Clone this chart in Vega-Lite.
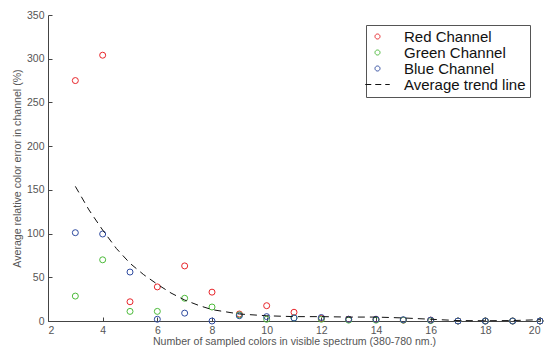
{
  "$schema": "https://vega.github.io/schema/vega-lite/v6.json",
  "width": 492,
  "height": 306,
  "autosize": "none",
  "padding": {"left": 48, "top": 15, "right": 10, "bottom": 29},
  "background": "white",
  "config": {
    "view": {"stroke": null},
    "font": "Liberation Sans",
    "axis": {
      "grid": false,
      "domainColor": "#444444",
      "tickColor": "#444444",
      "labelColor": "#555555",
      "titleColor": "#555555",
      "labelFontSize": 10.5,
      "titleFontSize": 10.6,
      "titleFontWeight": "normal",
      "tickSize": -4,
      "labelPadding": 8
    }
  },
  "datasets": {
    "pts": [
      {"x": 3, "channel": "Red Channel", "y": 275},
      {"x": 4, "channel": "Red Channel", "y": 304},
      {"x": 5, "channel": "Red Channel", "y": 22},
      {"x": 6, "channel": "Red Channel", "y": 39},
      {"x": 7, "channel": "Red Channel", "y": 63},
      {"x": 8, "channel": "Red Channel", "y": 33},
      {"x": 9, "channel": "Red Channel", "y": 8},
      {"x": 10, "channel": "Red Channel", "y": 17.5},
      {"x": 11, "channel": "Red Channel", "y": 10},
      {"x": 12, "channel": "Red Channel", "y": 3},
      {"x": 13, "channel": "Red Channel", "y": 2},
      {"x": 14, "channel": "Red Channel", "y": 2},
      {"x": 15, "channel": "Red Channel", "y": 1},
      {"x": 16, "channel": "Red Channel", "y": 1},
      {"x": 17, "channel": "Red Channel", "y": 0},
      {"x": 18, "channel": "Red Channel", "y": 0},
      {"x": 19, "channel": "Red Channel", "y": 0},
      {"x": 20, "channel": "Red Channel", "y": 0},
      {"x": 3, "channel": "Green Channel", "y": 28.5},
      {"x": 4, "channel": "Green Channel", "y": 70},
      {"x": 5, "channel": "Green Channel", "y": 11},
      {"x": 6, "channel": "Green Channel", "y": 11},
      {"x": 7, "channel": "Green Channel", "y": 26},
      {"x": 8, "channel": "Green Channel", "y": 16},
      {"x": 9, "channel": "Green Channel", "y": 7},
      {"x": 10, "channel": "Green Channel", "y": 2},
      {"x": 11, "channel": "Green Channel", "y": 3.5},
      {"x": 12, "channel": "Green Channel", "y": 2},
      {"x": 13, "channel": "Green Channel", "y": 1},
      {"x": 14, "channel": "Green Channel", "y": 1},
      {"x": 15, "channel": "Green Channel", "y": 1},
      {"x": 16, "channel": "Green Channel", "y": 0.5},
      {"x": 17, "channel": "Green Channel", "y": 0},
      {"x": 18, "channel": "Green Channel", "y": 0},
      {"x": 19, "channel": "Green Channel", "y": 0},
      {"x": 20, "channel": "Green Channel", "y": 0},
      {"x": 3, "channel": "Blue Channel", "y": 101},
      {"x": 4, "channel": "Blue Channel", "y": 99.5},
      {"x": 5, "channel": "Blue Channel", "y": 56},
      {"x": 6, "channel": "Blue Channel", "y": 2},
      {"x": 7, "channel": "Blue Channel", "y": 9},
      {"x": 8, "channel": "Blue Channel", "y": 0},
      {"x": 9, "channel": "Blue Channel", "y": 6},
      {"x": 10, "channel": "Blue Channel", "y": 5},
      {"x": 11, "channel": "Blue Channel", "y": 3.5},
      {"x": 12, "channel": "Blue Channel", "y": 4},
      {"x": 13, "channel": "Blue Channel", "y": 2},
      {"x": 14, "channel": "Blue Channel", "y": 2},
      {"x": 15, "channel": "Blue Channel", "y": 1.5},
      {"x": 16, "channel": "Blue Channel", "y": 1},
      {"x": 17, "channel": "Blue Channel", "y": 0},
      {"x": 18, "channel": "Blue Channel", "y": 0},
      {"x": 19, "channel": "Blue Channel", "y": 0},
      {"x": 20, "channel": "Blue Channel", "y": 0}
    ],
    "trend": [
      {"x": 3, "y": 154},
      {"x": 3.5, "y": 127},
      {"x": 4, "y": 104},
      {"x": 4.5, "y": 83},
      {"x": 5, "y": 66},
      {"x": 5.5, "y": 53},
      {"x": 6, "y": 42},
      {"x": 6.5, "y": 32},
      {"x": 7, "y": 24},
      {"x": 7.5, "y": 18},
      {"x": 8, "y": 13},
      {"x": 9, "y": 8},
      {"x": 10, "y": 6},
      {"x": 11, "y": 5},
      {"x": 12, "y": 5},
      {"x": 13, "y": 4.5},
      {"x": 14, "y": 4.5},
      {"x": 15, "y": 3.5},
      {"x": 16, "y": 2},
      {"x": 17, "y": 0.5},
      {"x": 18, "y": 0.3},
      {"x": 19, "y": 0.5},
      {"x": 20, "y": 1.5}
    ]
  },
  "layer": [
    {
      "data": {"name": "pts"},
      "mark": {"type": "point", "shape": "circle", "filled": false, "size": 36, "strokeWidth": 1, "opacity": 1},
      "encoding": {
        "x": {
          "field": "x", "type": "quantitative",
          "scale": {"domain": [2, 20], "nice": false, "zero": false},
          "axis": {"values": [2, 4, 6, 8, 10, 12, 14, 16, 18, 20], "title": "Number of sampled colors in visible spectrum (380-780 nm.)", "titlePadding": 1}
        },
        "y": {
          "field": "y", "type": "quantitative",
          "scale": {"domain": [0, 350], "nice": false},
          "axis": {"values": [0, 50, 100, 150, 200, 250, 300, 350], "title": "Average relative color error in channel (%)", "titlePadding": 4}
        },
        "color": {
          "field": "channel", "type": "nominal",
          "scale": {
            "domain": ["Red Channel", "Green Channel", "Blue Channel", "Average trend line"],
            "range": ["#e8262b", "#4cbb3a", "#2f4ba0", "#111111"]
          },
          "legend": {
            "title": null,
            "orient": "none",
            "legendX": 318,
            "legendY": 10,
            "strokeColor": "#555555",
            "fillColor": "white",
            "padding": 4,
            "labelFontSize": 15,
            "labelColor": "#111111",
            "labelOffset": 19,
            "rowPadding": -1.5,
            "symbolSize": 600,
            "symbolStrokeWidth": 1,
            "encoding": {
              "symbols": {
                "shape": {"value": {"expr": "datum.value === 'Average trend line' ? 'stroke' : 'circle'"}},
                "strokeDash": {"value": {"expr": "datum.value === 'Average trend line' ? [6, 4] : [1, 0]"}},
                "size": {"value": {"expr": "datum.value === 'Average trend line' ? 600 : 25"}}
              }
            }
          }
        }
      }
    },
    {
      "data": {"name": "trend"},
      "mark": {"type": "line", "strokeDash": [7, 5], "strokeWidth": 1},
      "encoding": {
        "x": {"field": "x", "type": "quantitative"},
        "y": {"field": "y", "type": "quantitative"},
        "color": {"datum": "Average trend line"}
      }
    }
  ]
}
